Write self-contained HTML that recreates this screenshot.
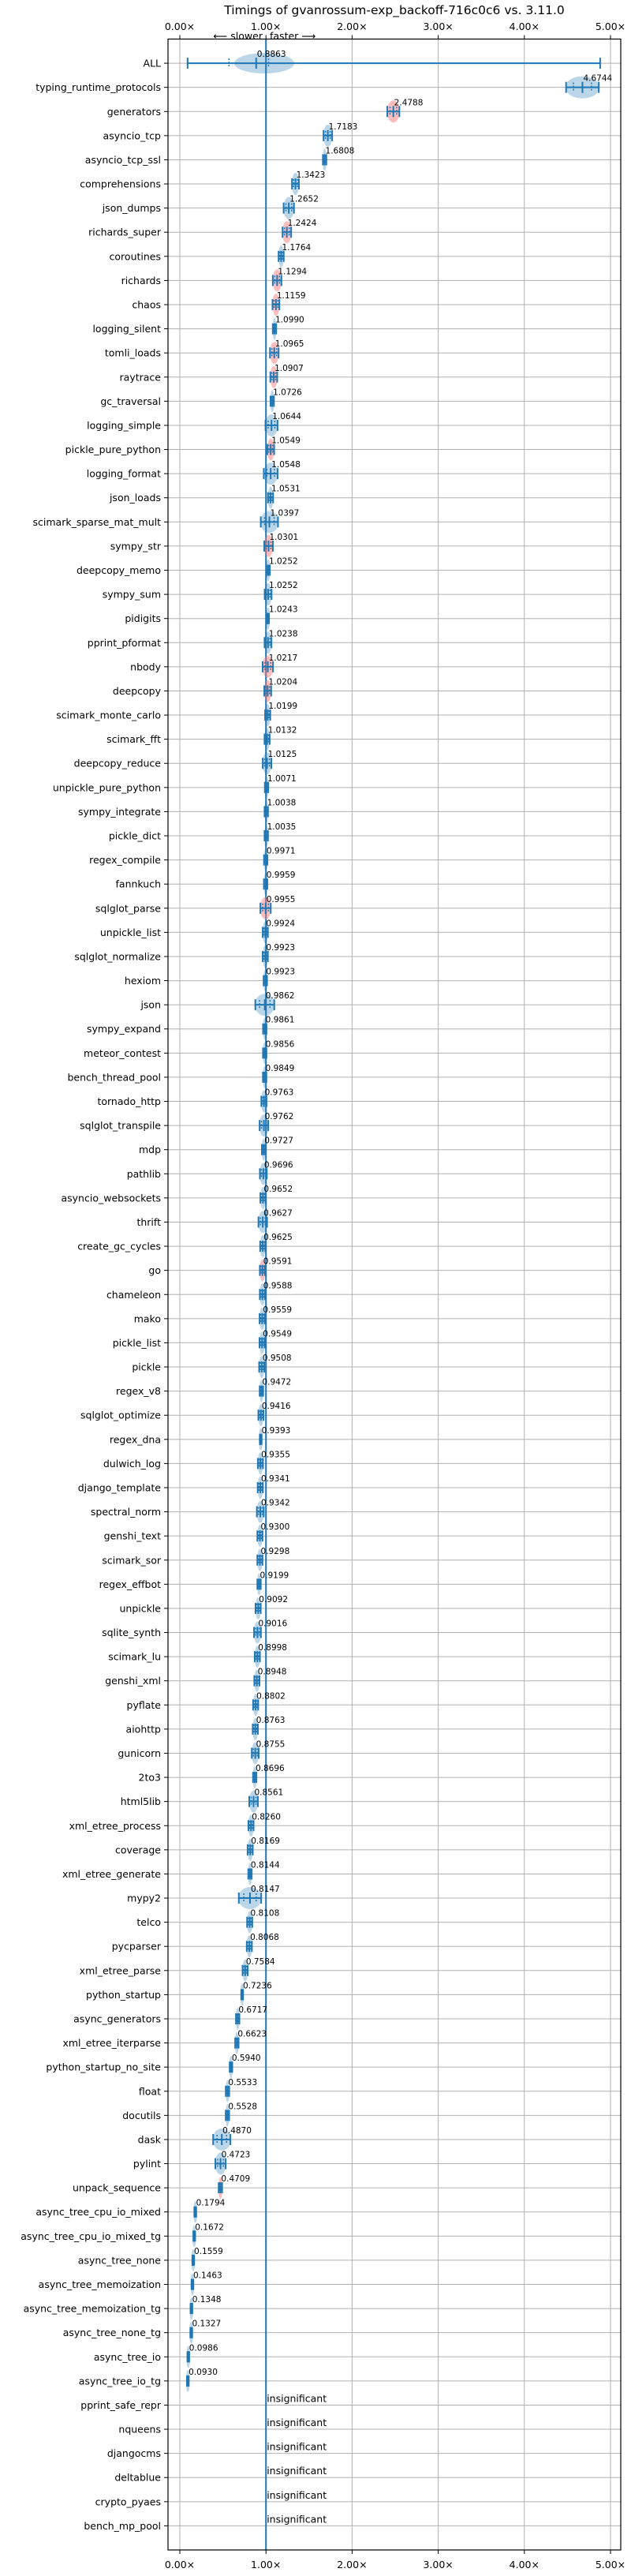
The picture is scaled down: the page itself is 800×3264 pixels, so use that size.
<!DOCTYPE html>
<html><head><meta charset="utf-8">
<style>
html,body{margin:0;padding:0;background:#fff;}
svg text{font-family:"DejaVu Sans","Liberation Sans",sans-serif;}
</style></head>
<body>
<svg id="chart" width="800" height="3259" viewBox="0 0 800 3259" xmlns="http://www.w3.org/2000/svg">
<rect width="800" height="3259" fill="#fff"/>
<text x="500" y="18" font-size="15.5" text-anchor="middle" fill="#000">Timings of gvanrossum-exp_backoff-716c0c6 vs. 3.11.0</text>
<text x="333" y="50" font-size="12.5" text-anchor="end" fill="#000">⟵ slower</text>
<text x="342" y="50" font-size="12.5" text-anchor="start" fill="#000">faster ⟶</text>
<g id="grid"></g>
<g id="marks"></g>
<g id="axes"></g>
</svg>
<script>
const names = ["ALL","typing_runtime_protocols","generators","asyncio_tcp","asyncio_tcp_ssl","comprehensions","json_dumps","richards_super","coroutines","richards","chaos","logging_silent","tomli_loads","raytrace","gc_traversal","logging_simple","pickle_pure_python","logging_format","json_loads","scimark_sparse_mat_mult","sympy_str","deepcopy_memo","sympy_sum","pidigits","pprint_pformat","nbody","deepcopy","scimark_monte_carlo","scimark_fft","deepcopy_reduce","unpickle_pure_python","sympy_integrate","pickle_dict","regex_compile","fannkuch","sqlglot_parse","unpickle_list","sqlglot_normalize","hexiom","json","sympy_expand","meteor_contest","bench_thread_pool","tornado_http","sqlglot_transpile","mdp","pathlib","asyncio_websockets","thrift","create_gc_cycles","go","chameleon","mako","pickle_list","pickle","regex_v8","sqlglot_optimize","regex_dna","dulwich_log","django_template","spectral_norm","genshi_text","scimark_sor","regex_effbot","unpickle","sqlite_synth","scimark_lu","genshi_xml","pyflate","aiohttp","gunicorn","2to3","html5lib","xml_etree_process","coverage","xml_etree_generate","mypy2","telco","pycparser","xml_etree_parse","python_startup","async_generators","xml_etree_iterparse","python_startup_no_site","float","docutils","dask","pylint","unpack_sequence","async_tree_cpu_io_mixed","async_tree_cpu_io_mixed_tg","async_tree_none","async_tree_memoization","async_tree_memoization_tg","async_tree_none_tg","async_tree_io","async_tree_io_tg","pprint_safe_repr","nqueens","djangocms","deltablue","crypto_pyaes","bench_mp_pool"];
const values = [0.8863,4.6744,2.4788,1.7183,1.6808,1.3423,1.2652,1.2424,1.1764,1.1294,1.1159,1.0990,1.0965,1.0907,1.0726,1.0644,1.0549,1.0548,1.0531,1.0397,1.0301,1.0252,1.0252,1.0243,1.0238,1.0217,1.0204,1.0199,1.0132,1.0125,1.0071,1.0038,1.0035,0.9971,0.9959,0.9955,0.9924,0.9923,0.9923,0.9862,0.9861,0.9856,0.9849,0.9763,0.9762,0.9727,0.9696,0.9652,0.9627,0.9625,0.9591,0.9588,0.9559,0.9549,0.9508,0.9472,0.9416,0.9393,0.9355,0.9341,0.9342,0.9300,0.9298,0.9199,0.9092,0.9016,0.8998,0.8948,0.8802,0.8763,0.8755,0.8696,0.8561,0.8260,0.8169,0.8144,0.8147,0.8108,0.8068,0.7584,0.7236,0.6717,0.6623,0.5940,0.5533,0.5528,0.4870,0.4723,0.4709,0.1794,0.1672,0.1559,0.1463,0.1348,0.1327,0.0986,0.0930,null,null,null,null,null,null];
const spreads = [0,0.19,0.07,0.05,0.02,0.04,0.06,0.05,0.03,0.05,0.04,0.02,0.05,0.04,0.02,0.07,0.04,0.08,0.03,0.10,0.05,0.02,0.04,0.01,0.04,0.06,0.04,0.03,0.03,0.05,0.02,0.02,0.02,0.02,0.02,0.06,0.03,0.03,0.02,0.11,0.02,0.02,0.02,0.03,0.05,0.02,0.04,0.03,0.05,0.03,0.03,0.03,0.03,0.03,0.03,0.02,0.03,0.01,0.03,0.03,0.04,0.03,0.03,0.02,0.03,0.04,0.03,0.03,0.03,0.03,0.04,0.02,0.05,0.03,0.03,0.02,0.13,0.03,0.03,0.03,0.01,0.02,0.02,0.015,0.02,0.02,0.10,0.06,0.02,0.01,0.01,0.01,0.01,0.01,0.01,0.01,0.01,0,0,0,0,0,0];
const redRows = [2,7,9,10,12,13,16,20,25,26,35,50,88];
const allRange = [0.09, 4.88];
const xTicks = [0,1,2,3,4,5];
const xTickLabels = ["0.00×","1.00×","2.00×","3.00×","4.00×","5.00×"];

const NS = "http://www.w3.org/2000/svg";
const L = 213, R = 787, T = 49.5, B = 3231;
const X0 = 228, XS = 109.2;
const rowH = (B - T) / (names.length + 1);
function xs(v){ return X0 + v * XS; }
function ys(i){ return T + (i + 1) * rowH; }
function mk(tag, attrs, parent){
  const e = document.createElementNS(NS, tag);
  for (const k in attrs) e.setAttribute(k, attrs[k]);
  parent.appendChild(e);
  return e;
}
const grid = document.getElementById('grid');
const marks = document.getElementById('marks');
const axes = document.getElementById('axes');

// vertical grid
xTicks.forEach((t, k) => {
  const g = mk('line', {x1: xs(t), x2: xs(t), y1: T, y2: B, stroke: '#b0b0b0', 'stroke-width': 1}, grid);
  
  
  ['top','bottom'].forEach(pos => {
    const y1 = pos === 'top' ? T : B;
    const y2 = pos === 'top' ? T - 5 : B + 5;
    const tk = mk('line', {x1: xs(t), x2: xs(t), y1: y1, y2: y2, stroke: '#000', 'stroke-width': 1}, axes);
    
    
    const tl = mk('text', {x: xs(t), y: pos === 'top' ? 38 : 3254, 'font-size': 12.5, 'text-anchor': 'middle', fill: '#000'}, axes);
    tl.textContent = xTickLabels[k];
    
    
  });
});
// rows
names.forEach((n, i) => {
  const y = ys(i);
  const hg = mk('line', {x1: L, x2: R, y1: y, y2: y, stroke: '#b0b0b0', 'stroke-width': 1}, grid);
  
  
  const tk = mk('line', {x1: L - 5, x2: L, y1: y, y2: y, stroke: '#000', 'stroke-width': 1}, axes);
  
  
  const lab = mk('text', {x: L - 9, y: y + 4.5, 'font-size': 12.5, 'text-anchor': 'end', fill: '#000'}, axes);
  lab.textContent = n;
  
  
});
// reference line at 1.0
const ref = mk('line', {x1: xs(1), x2: xs(1), y1: T, y2: B, stroke: '#1f77b4', 'stroke-width': 2}, marks);



names.forEach((n, i) => {
  const y = ys(i);
  const v = values[i];
  const g = mk('g', {}, marks);
  
  
  if (v === null) {
    const t = mk('text', {x: xs(1) + 1, y: y - 4, 'font-size': 12.5, fill: '#000'}, g);
    t.textContent = 'insignificant';
    
    
    return;
  }
  const red = redRows.includes(i);
  const fill = red ? 'rgba(255,110,110,0.45)' : 'rgba(31,119,180,0.3)';
  let lo, hi, vc, rx, ry;
  if (i === 0) {
    lo = allRange[0]; hi = allRange[1]; vc = 0.98; rx = 38; ry = 13;
  } else {
    const s = spreads[i];
    lo = v - s; hi = v + s; vc = v; rx = Math.max(s * XS * 1.05, 2.5); ry = 14;
  }
  const vio = mk('ellipse', {cx: xs(vc), cy: y, rx: rx, ry: ry, fill: fill}, g);
  
  
  const c = '#1f77b4';
  const ln = mk('line', {x1: xs(lo), x2: xs(hi), y1: y, y2: y, stroke: c, 'stroke-width': 2}, g);
  
  
  [lo, hi].forEach(e => {
    const cp = mk('line', {x1: xs(e), x2: xs(e), y1: y - 7, y2: y + 7, stroke: c, 'stroke-width': 2}, g);
    
    
  });
  const m = mk('line', {x1: xs(v), x2: xs(v), y1: y - 7, y2: y + 7, stroke: c, 'stroke-width': 2}, g);
  
  
  const q = i === 0 ? [0.57, 1.03] : [v - spreads[i] * 0.55, v + spreads[i] * 0.55];
  q.forEach(e => {
    const d = mk('line', {x1: xs(e), x2: xs(e), y1: y - 6, y2: y + 6, stroke: c, 'stroke-width': 1.5, 'stroke-dasharray': '2,2'}, g);
    
    
  });
  const t = mk('text', {x: xs(v) + 1, y: y - 8, 'font-size': 10.5, fill: '#000'}, g);
  t.textContent = v.toFixed(4);
  
  
});
// frame
const fr = mk('rect', {x: L, y: T, width: R - L, height: B - T, fill: 'none', stroke: '#000', 'stroke-width': 1.2}, axes);


</script>
</body></html>
